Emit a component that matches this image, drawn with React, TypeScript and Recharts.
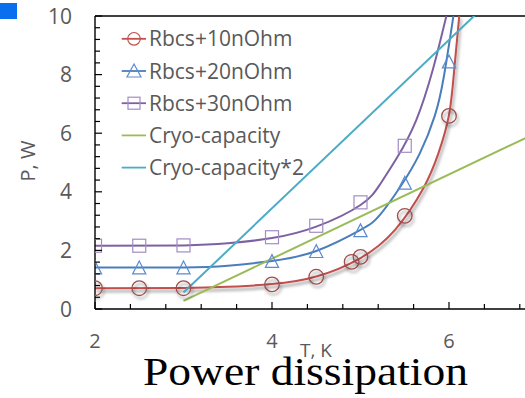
import React from 'react';
import { ComposedChart, Line, Scatter, XAxis, YAxis, ReferenceLine, Legend } from 'recharts';

// Measured points: temperature T (K) and dissipated power P (W)
const r10T = [2, 2.5, 3, 4, 4.5, 4.9, 5, 5.5, 6];
const r10P = [0.71, 0.71, 0.71, 0.84, 1.1, 1.61, 1.78, 3.18, 6.59];
const r20T = [2, 2.5, 3, 4, 4.5, 5, 5.5, 6];
const r20P = [1.41, 1.41, 1.41, 1.63, 1.97, 2.68, 4.3, 8.44];
const r30T = [2, 2.5, 3, 4, 4.5, 5, 5.5];
const r30P = [2.16, 2.16, 2.17, 2.45, 2.84, 3.64, 5.57];

// Trend curves through each series
const fit10T = [2, 3, 3.5, 4, 4.5, 5, 5.39, 5.71, 5.88, 6.0, 6.06, 6.116];
const fit10P = [0.71, 0.72, 0.76, 0.85, 1.11, 1.74, 2.7, 4.12, 5.31, 6.62, 8.2, 10];
const fit20T = [2, 3, 3.5, 4, 4.5, 5, 5.22, 5.45, 5.67, 5.84, 5.94, 6.05];
const fit20P = [1.42, 1.42, 1.48, 1.64, 1.98, 2.7, 3.21, 4.17, 5.31, 6.6, 7.9, 10];
const fit30T = [2, 3, 3.5, 4, 4.5, 5, 5.22, 5.41, 5.63, 5.82, 5.97];
const fit30P = [2.16, 2.17, 2.24, 2.42, 2.81, 3.55, 4.25, 5.15, 6.45, 8.2, 10];

// Cryocooler capacity and twice that capacity
const cryoT = [3, 7];
const cryoP = [0.28, 6.03];
const cryo2P = [0.56, 12.06];

const seriesNames = ['Rbcs+10nOhm', 'Rbcs+20nOhm', 'Rbcs+30nOhm', 'Cryo-capacity', 'Cryo-capacity*2'];

const xTicks = [2, 2.4, 2.8, 3.2, 3.6, 4, 4.4, 4.8, 5.2, 5.6, 6, 6.4, 6.8];
const xTickLabels = [2, 4, 6];
const yTicks = [0, 0.4, 0.8, 1.2, 1.6, 2, 2.4, 2.8, 3.2, 3.6, 4, 4.4, 4.8, 5.2, 5.6, 6, 6.4, 6.8, 7.2, 7.6, 8, 8.4, 8.8, 9.2, 9.6, 10];
const yTickLabels = [0, 2, 4, 6, 8, 10];

const RED = '#C0504D';
const RED_MARK = '#9E4F4E';
const BLUE = '#4A7EBB';
const BLUE_MARK = '#5B8BD0';
const PURPLE = '#7E61A2';
const PURPLE_MARK = '#A38CC5';
const GREEN = '#9BBB59';
const CYAN = '#4BACC6';
const TEXT = '#595959';
const FONT = "'Open Sans', sans-serif";

const zip = (ts: number[], ps: number[]) => ts.map((t, i) => ({ t, p: ps[i] }));

const CircleMark = (props: any) => (
  <circle cx={props.cx} cy={props.cy} r={7.3} fill="none" stroke={RED_MARK} strokeWidth={1.3} filter="url(#softShadow)" />
);
const TriangleMark = (props: any) => {
  const { cx, cy } = props;
  return (
    <polygon
      points={`${cx},${cy - 6.6} ${cx - 6.6},${cy + 6.2} ${cx + 6.6},${cy + 6.2}`}
      fill="none"
      stroke={BLUE_MARK}
      strokeWidth={1.2}
    />
  );
};
const SquareMark = (props: any) => (
  <rect x={props.cx - 6.5} y={props.cy - 6.5} width={13} height={13} fill="none" stroke={PURPLE_MARK} strokeWidth={1.2} />
);

const XTick = (props: any) => {
  const { x, y, payload } = props;
  const major = xTickLabels.includes(payload.value);
  return (
    <g>
      <line x1={x} x2={x} y1={y} y2={y - (major ? 7 : 5)} stroke="#000" strokeWidth={1.2} />
      {major && (
        <text x={x} y={y + 39} textAnchor="middle" fill={TEXT} fontSize={20} fontFamily={FONT}>
          {payload.value}
        </text>
      )}
    </g>
  );
};

const YTick = (props: any) => {
  const { x, y, payload } = props;
  const major = yTickLabels.includes(payload.value);
  return (
    <g>
      <line x1={x} x2={x + (major ? 7 : 5)} y1={y} y2={y} stroke="#000" strokeWidth={1.2} />
      {major && (
        <text x={x - 23} y={y + 7.5} textAnchor="end" fill={TEXT} fontSize={21} fontFamily={FONT}>
          {payload.value}
        </text>
      )}
    </g>
  );
};

const legendColors = [RED, BLUE, PURPLE, GREEN, CYAN];

const LegendBox = () => (
  <svg width={210} height={165} style={{ display: 'block' }}>
    {seriesNames.map((name, i) => {
      const cy = 18.8 + i * 32.2;
      return (
        <g key={name}>
          <line x1={11.7} x2={36} y1={cy} y2={cy} stroke={legendColors[i]} strokeWidth={1.8} />
          {i === 0 && <circle cx={24} cy={cy} r={6.3} fill="none" stroke={RED} strokeWidth={1.2} />}
          {i === 1 && (
            <polygon
              points={`24,${cy - 7} ${17},${cy + 6} ${31},${cy + 6}`}
              fill="none"
              stroke={BLUE_MARK}
              strokeWidth={1.2}
            />
          )}
          {i === 2 && <rect x={18} y={cy - 6} width={12} height={12} fill="none" stroke={PURPLE_MARK} strokeWidth={1.2} />}
          <text x={39} y={cy + 7.5} fill={TEXT} fontSize={21} fontFamily={FONT}>
            {name}
          </text>
        </g>
      );
    })}
  </svg>
);

export default function App() {
  return (
    <div style={{ position: 'absolute', left: 0, top: 0, width: 525, height: 398, overflow: 'hidden', background: '#fff' }}>
      <div style={{ position: 'absolute', left: 0, top: 3, width: 17, height: 16, background: '#0A6FEF' }} />
      <ComposedChart width={545} height={398} margin={{ top: 16, right: 7.5, bottom: 59, left: 35 }}>
        <defs>
          <filter id="softShadow" x="-50%" y="-50%" width="200%" height="200%">
            <feDropShadow dx={1.5} dy={3} stdDeviation={1.8} floodColor="#000" floodOpacity={0.4} />
          </filter>
        </defs>
        <XAxis
          type="number"
          dataKey="t"
          domain={[2, 7]}
          ticks={xTicks}
          interval={0}
          allowDataOverflow
          height={30}
          tickSize={0}
          tickMargin={0}
          tickLine={false}
          tick={<XTick />}
          axisLine={{ stroke: '#000', strokeWidth: 1.4 }}
        />
        <YAxis
          type="number"
          dataKey="p"
          domain={[0, 10]}
          ticks={yTicks}
          interval={0}
          allowDataOverflow
          width={60}
          tickSize={0}
          tickMargin={0}
          tickLine={false}
          tick={<YTick />}
          axisLine={{ stroke: '#000', strokeWidth: 1.4 }}
        />
        <ReferenceLine y={10} stroke="#000" strokeWidth={1.4} />

        <Line data={zip(fit30T, fit30P)} dataKey="p" type="natural" stroke={PURPLE} strokeWidth={2} dot={false} activeDot={false} isAnimationActive={false} />
        <Line data={zip(fit20T, fit20P)} dataKey="p" type="natural" stroke={BLUE} strokeWidth={2} dot={false} activeDot={false} isAnimationActive={false} />
        <Line data={zip(fit10T, fit10P)} dataKey="p" type="natural" stroke={RED} strokeWidth={2} dot={false} activeDot={false} filter="url(#softShadow)" isAnimationActive={false} />

        <Scatter data={zip(r30T, r30P)} dataKey="p" shape={SquareMark} isAnimationActive={false} />
        <Scatter data={zip(r20T, r20P)} dataKey="p" shape={TriangleMark} isAnimationActive={false} />
        <Scatter data={zip(r10T, r10P)} dataKey="p" shape={CircleMark} isAnimationActive={false} />

        <Line data={zip(cryoT, cryoP)} dataKey="p" type="linear" stroke={GREEN} strokeWidth={2} dot={false} activeDot={false} isAnimationActive={false} />
        <Line data={zip(cryoT, cryo2P)} dataKey="p" type="linear" stroke={CYAN} strokeWidth={2} dot={false} activeDot={false} isAnimationActive={false} />

        <Legend
          layout="vertical"
          align="center"
          verticalAlign="middle"
          content={() => <LegendBox />}
          wrapperStyle={{ position: 'absolute', left: 110, top: 20, width: 210, height: 165 }}
        />

        <text transform="translate(35,161) rotate(-90)" textAnchor="middle" fill={TEXT} fontSize={20} fontFamily={FONT}>
          P, W
        </text>
        <text x={316} y={357} textAnchor="middle" fill={TEXT} fontSize={19} fontFamily={FONT}>
          T, K
        </text>
        <text x={305.5} y={385} textAnchor="middle" fill="#000" fontSize={40} fontFamily="'Liberation Serif', 'Times New Roman', serif" textLength={325} lengthAdjust="spacingAndGlyphs">
          Power dissipation
        </text>
      </ComposedChart>
    </div>
  );
}
